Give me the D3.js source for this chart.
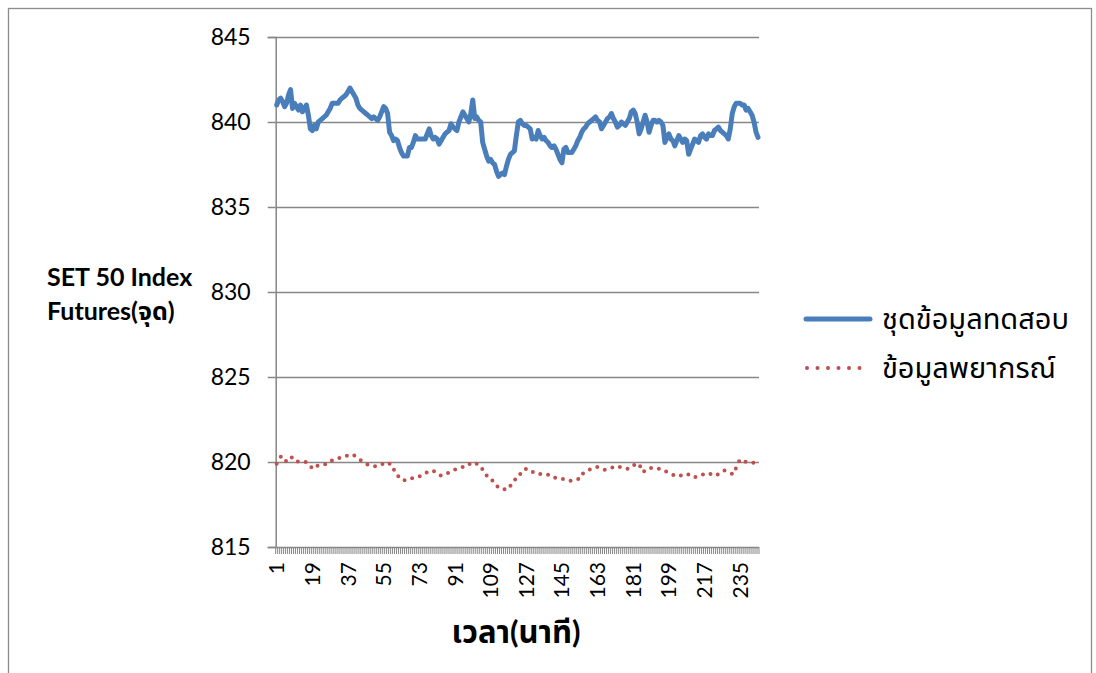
<!DOCTYPE html>
<html>
<head>
<meta charset="utf-8">
<script src="https://cdn.jsdelivr.net/npm/d3@7/dist/d3.min.js"></script>
<style>
  html, body { margin: 0; padding: 0; background: #fff; }
  svg { display: block; }
  text { font-family: Lato, "Noto Sans Thai", "Noto Sans", "Open Sans", sans-serif; fill: #000; }
</style>
</head>
<body>
<svg id="chart" width="1096" height="673"></svg>
<script>
// SET 50 Index Futures: test set vs. forecast, per minute
const minutes = d3.range(1, 245);

const testSeries = [
  841.0, 841.3, 841.4, 841.2, 840.9, 841.1, 841.6, 841.9, 840.8, 841.1,
  840.9, 840.7, 841.0, 840.6, 840.8, 841.0, 840.4, 839.6, 839.5, 839.8,
  839.6, 840.0, 840.1, 840.2, 840.3, 840.4, 840.6, 840.8, 841.1, 841.1,
  841.1, 841.1, 841.3, 841.4, 841.5, 841.6, 841.8, 842.0, 841.8, 841.6,
  841.4, 841.0, 840.8, 840.7, 840.6, 840.5, 840.4, 840.3, 840.2, 840.3,
  840.2, 840.1, 840.3, 840.6, 840.9, 840.8, 840.5, 839.4, 839.2, 838.9,
  839.0, 838.9, 838.5, 838.2, 838.0, 838.0, 838.0, 838.5, 838.5, 838.8,
  839.2, 839.0, 839.0, 839.0, 839.0, 839.0, 839.3, 839.6, 839.2, 839.0,
  839.1, 839.0, 838.7, 838.9, 839.1, 839.3, 839.4, 839.5, 839.9, 839.7,
  839.6, 839.5, 840.0, 840.3, 840.6, 840.4, 840.2, 840.0, 840.5, 841.3,
  840.2, 840.3, 840.1, 840.0, 838.8, 838.4, 838.0, 837.7, 837.8, 837.6,
  837.5, 837.1, 836.8, 836.9, 837.0, 836.9, 837.4, 837.8, 838.1, 838.2,
  838.3, 839.2, 840.0, 840.1, 839.9, 839.8, 839.8, 839.7, 839.6, 839.0,
  839.1, 839.0, 839.5, 839.2, 839.0, 839.1, 838.9, 838.8, 838.6, 838.5,
  838.6, 838.4, 838.1, 837.8, 837.6, 838.4, 838.5, 838.2, 838.2, 838.2,
  838.4, 838.6, 838.9, 839.1, 839.4, 839.6, 839.7, 839.9, 840.0, 840.1,
  840.2, 840.3, 840.1, 840.0, 839.6, 839.8, 840.0, 840.2, 840.3, 840.5,
  840.2, 840.0, 839.7, 839.8, 840.0, 839.9, 839.8, 840.0, 840.2, 840.6,
  840.7, 840.5, 840.0, 839.3, 839.6, 840.0, 840.4, 840.0, 839.4, 839.8,
  840.1, 840.1, 840.0, 840.1, 840.0, 839.8, 838.8, 839.1, 839.3, 839.0,
  838.9, 838.6, 838.9, 839.2, 839.0, 838.8, 839.0, 838.9, 838.1, 838.4,
  838.7, 839.0, 838.9, 838.8, 839.2, 839.3, 839.1, 839.0, 839.3, 839.2,
  839.2, 839.5, 839.6, 839.7, 839.5, 839.4, 839.3, 839.2, 839.0, 839.6,
  840.5, 840.9, 841.1, 841.1, 841.1, 841.0, 841.0, 840.7, 840.8, 840.6,
  840.4, 840.0, 839.4, 839.1
];

const forecastSeries = [
  819.9, 820.1, 820.3, 820.35, 820.2, 820.0, 820.1, 820.2, 820.3, 820.2,
  820.1, 820.0, 820.0, 820.0, 820.0, 820.0, 819.9, 819.8, 819.6, 819.7,
  819.75, 819.8, 819.8, 819.85, 819.85, 819.9, 819.9, 820.0, 820.1, 820.15,
  820.2, 820.2, 820.25, 820.25, 820.3, 820.35, 820.4, 820.45, 820.45, 820.4,
  820.3, 820.25, 820.15, 820.05, 819.95, 819.9, 819.85, 819.8, 819.75, 819.75,
  819.75, 819.8, 819.8, 819.85, 819.95, 820.0, 819.95, 819.9, 819.85, 819.6,
  819.3, 819.2, 819.1, 819.0, 818.9, 818.95, 819.0, 819.05, 819.05, 819.05,
  819.05, 819.1, 819.15, 819.2, 819.3, 819.35, 819.4, 819.45, 819.5, 819.5,
  819.4, 819.3, 819.25, 819.2, 819.25, 819.25, 819.3, 819.4, 819.45, 819.5,
  819.55, 819.6, 819.65, 819.7, 819.7, 819.75, 819.85, 819.9, 819.85, 819.8,
  819.8, 819.9, 819.85, 819.7, 819.55, 819.45, 819.2, 819.0, 818.95, 818.9,
  818.8, 818.6, 818.5, 818.4, 818.4, 818.4, 818.4, 818.4, 818.6, 818.85,
  818.95, 819.0, 819.05, 819.3, 819.5, 819.55, 819.6, 819.6, 819.55, 819.45,
  819.35, 819.3, 819.3, 819.3, 819.3, 819.3, 819.3, 819.25, 819.15, 819.1,
  819.1, 819.05, 819.05, 819.05, 819.0, 819.0, 819.0, 818.95, 818.9, 818.9,
  818.9, 818.95, 819.0, 819.0, 819.2, 819.4, 819.45, 819.5, 819.55, 819.6,
  819.65, 819.7, 819.7, 819.65, 819.6, 819.55, 819.55, 819.6, 819.65, 819.65,
  819.7, 819.75, 819.75, 819.7, 819.7, 819.65, 819.65, 819.6, 819.6, 819.7,
  819.8, 819.85, 819.9, 819.9, 819.6, 819.4, 819.5, 819.6, 819.65, 819.65,
  819.65, 819.65, 819.65, 819.6, 819.55, 819.5, 819.5, 819.4, 819.35, 819.3,
  819.25, 819.2, 819.15, 819.15, 819.2, 819.25, 819.3, 819.3, 819.25, 819.2,
  819.1, 819.1, 819.15, 819.2, 819.25, 819.25, 819.3, 819.35, 819.35, 819.3,
  819.25, 819.2, 819.2, 819.3, 819.4, 819.45, 819.5, 819.45, 819.4, 819.35,
  819.3, 819.3, 819.7, 819.95, 820.15, 820.1, 820.05, 820.0, 819.95, 819.95,
  819.95, 819.95, 820.0, 820.0
];

const yTicks = [815, 820, 825, 830, 835, 840, 845];
const xTickLabels = [1, 19, 37, 55, 73, 91, 109, 127, 145, 163, 181, 199, 217, 235];

const seriesNames = ["ชุดข้อมูลทดสอบ", "ข้อมูลพยากรณ์"];
const yTitleLines = ["SET 50 Index", "Futures(จุด)"];
const xTitle = "เวลา(นาที)";

const blue = "#4a7ebb";
const red = "#c0504d";
const gridColor = "#878787";

const svg = d3.select("#chart");

// outer frame
svg.append("rect")
  .attr("x", 8.5).attr("y", 8.5)
  .attr("width", 1083).attr("height", 720)
  .attr("fill", "none").attr("stroke", "#8c8c8c").attr("stroke-width", 1.3);

const plot = { left: 275.7, right: 759, top: 37, bottom: 547 };

const x = d3.scaleBand().domain(minutes).range([plot.left, plot.right]).padding(0);
const y = d3.scaleLinear().domain([815, 845]).range([plot.bottom, plot.top]);
const cx = d => x(d) + x.bandwidth() / 2;

// horizontal gridlines with outside tick marks
const yAxis = d3.axisLeft(y).tickValues(yTicks).tickSize(8).tickPadding(17).tickFormat(d3.format("d"));
const yG = svg.append("g").attr("transform", `translate(${plot.left},0)`).call(yAxis);
yG.select(".domain").attr("stroke", gridColor).attr("stroke-width", 1.5);
yG.selectAll(".tick line").attr("stroke", gridColor).attr("stroke-width", 1.5);
yG.selectAll(".tick").append("line")
  .attr("x1", 0).attr("x2", plot.right - plot.left)
  .attr("stroke", gridColor).attr("stroke-width", 1.5);
yG.selectAll(".tick text").style("font-size", "23px").attr("fill", "#000");

// category tick marks along the bottom axis
svg.append("g").selectAll("line")
  .data(minutes.concat([null]))
  .join("line")
  .attr("x1", d => d === null ? plot.right : x(d))
  .attr("x2", d => d === null ? plot.right : x(d))
  .attr("y1", plot.bottom).attr("y2", plot.bottom + 7)
  .attr("stroke", gridColor).attr("stroke-width", 1);

// rotated category labels
const xAxis = d3.axisBottom(x).tickValues(xTickLabels).tickSize(0).tickPadding(0);
const xG = svg.append("g").attr("transform", `translate(0,${plot.bottom})`).call(xAxis);
xG.select(".domain").remove();
xG.selectAll(".tick text")
  .attr("transform", "rotate(-90)")
  .attr("x", -15).attr("y", 0).attr("dy", "0.36em")
  .attr("text-anchor", "end")
  .style("font-size", "21px").attr("fill", "#000");

// series lines
const line = d3.line().x((v, i) => cx(minutes[i])).y(v => y(v));

svg.append("path")
  .datum(testSeries)
  .attr("d", line)
  .attr("fill", "none").attr("stroke", blue)
  .attr("stroke-width", 5).attr("stroke-linejoin", "round").attr("stroke-linecap", "round");

svg.append("path")
  .datum(forecastSeries)
  .attr("d", line)
  .attr("fill", "none").attr("stroke", red)
  .attr("stroke-width", 4).attr("stroke-linecap", "round")
  .attr("stroke-dasharray", "0 8");

// axis titles
svg.append("text")
  .attr("x", 47).attr("y", 277)
  .attr("text-anchor", "start")
  .style("font-size", "25px").style("font-weight", "bold")
  .selectAll("tspan").data(yTitleLines).join("tspan")
  .attr("x", 47).attr("dy", (d, i) => i === 0 ? "0.35em" : "1.36em")
  .text(d => d);

svg.append("text")
  .attr("x", 516).attr("y", 632).attr("dy", "0.35em")
  .attr("text-anchor", "middle")
  .style("font-size", "31px").style("font-weight", "bold")
  .text(xTitle);

// legend
const legend = svg.append("g");
const legendRows = [
  { name: seriesNames[0], color: blue, width: 5, dash: null, y: 319 },
  { name: seriesNames[1], color: red, width: 4, dash: "0 10.5", y: 368 }
];
legendRows.forEach(r => {
  legend.append("line")
    .attr("x1", r.dash ? 807 : 806).attr("x2", 870).attr("y1", r.y).attr("y2", r.y)
    .attr("stroke", r.color).attr("stroke-width", r.width)
    .attr("stroke-linecap", "round")
    .attr("stroke-dasharray", r.dash);
  legend.append("text")
    .attr("x", 882).attr("y", r.y).attr("dy", "0.35em")
    .style("font-size", "29px")
    .text(r.name);
});
</script>
</body>
</html>
